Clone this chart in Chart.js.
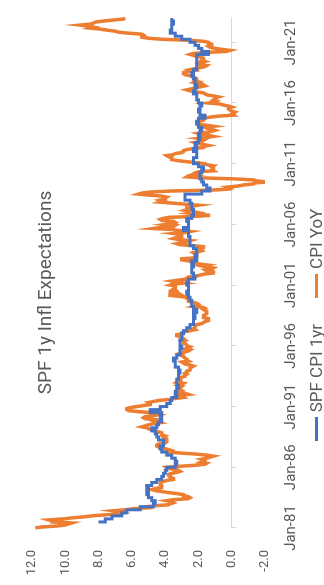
<!DOCTYPE html>
<html>
<head>
<meta charset="utf-8">
<script src="https://cdn.jsdelivr.net/npm/chart.js@4.4.1/dist/chart.umd.min.js"></script>
<style>
  html, body { margin: 0; padding: 0; background: #fff; overflow: hidden; }
  #wrap {
    position: absolute; left: 0; top: 0;
    width: 585px; height: 324px;
    transform-origin: top left;
    transform: translate(0, 585px) rotate(-90deg);
  }
  #title {
    position: absolute; left: 0; width: 585px; top: 33px;
    text-align: center; font: 19px Roboto, sans-serif; color: #595959;
  }
  #legend {
    position: absolute; left: 0; width: 520px; top: 306px; height: 20px;
    display: flex; justify-content: center; align-items: center;
    font: 17px Roboto, sans-serif; color: #595959; white-space: nowrap;
  }
  #legend .item { display: flex; align-items: center; margin: 0 13px; }
  #legend .swatch { display: inline-block; width: 24px; height: 3px; margin-right: 5px; }
</style>
</head>
<body>
<div id="wrap">
  <canvas id="myChart" width="585" height="324"></canvas>
  <div id="title">SPF 1y Infl Expectations</div>
  <div id="legend"></div>
</div>
<script>
// monthly categories Jan-81 .. Jan-23
const monthNames = ['Jan','Feb','Mar','Apr','May','Jun','Jul','Aug','Sep','Oct','Nov','Dec'];
const labels = [];
for (let y = 1981; y <= 2023; y++) {
  for (let m = 0; m < 12; m++) {
    if (y === 2023 && m > 0) break;
    labels.push(monthNames[m] + '-' + String(y).slice(2));
  }
}

// CPI YoY %, one row per year (1981 .. Jan 2023)
const cpiYoY = [
  11.8, 11.4, 10.5, 10.0, 9.8, 9.6, 10.8, 10.8, 11.0, 10.1, 9.6, 8.9,
  8.4, 7.6, 6.8, 6.5, 6.7, 7.1, 6.4, 5.9, 5.0, 5.1, 4.6, 3.8,
  3.7, 3.5, 3.6, 3.9, 3.5, 2.6, 2.5, 2.6, 2.9, 2.9, 3.3, 3.8,
  4.2, 4.6, 4.8, 4.6, 4.2, 4.2, 4.2, 4.3, 4.3, 4.3, 4.1, 3.9,
  3.5, 3.5, 3.7, 3.7, 3.8, 3.8, 3.6, 3.3, 3.1, 3.2, 3.5, 3.8,
  3.9, 3.1, 2.2, 1.6, 1.5, 1.8, 1.6, 1.6, 1.8, 1.5, 1.3, 1.1,
  1.5, 2.1, 3.0, 3.8, 3.9, 3.7, 3.9, 4.3, 4.4, 4.5, 4.5, 4.4,
  4.0, 3.9, 3.9, 3.9, 3.9, 4.0, 4.1, 4.0, 4.2, 4.2, 4.2, 4.4,
  4.7, 4.8, 5.0, 5.1, 5.4, 5.2, 5.0, 4.7, 4.3, 4.5, 4.7, 4.6,
  5.2, 5.3, 5.2, 4.7, 4.4, 4.7, 4.8, 5.6, 6.2, 6.3, 6.3, 6.1,
  5.7, 5.3, 4.9, 4.9, 5.0, 4.7, 4.4, 3.8, 3.4, 2.9, 3.0, 3.1,
  2.6, 2.8, 3.2, 3.2, 3.0, 3.1, 3.2, 3.1, 3.0, 3.2, 3.0, 2.9,
  3.3, 3.2, 3.1, 3.2, 3.2, 3.0, 2.8, 2.8, 2.7, 2.8, 2.7, 2.7,
  2.5, 2.5, 2.5, 2.4, 2.3, 2.5, 2.8, 2.9, 3.0, 2.6, 2.7, 2.7,
  2.8, 2.9, 2.9, 3.1, 3.2, 3.0, 2.8, 2.6, 2.5, 2.8, 2.6, 2.5,
  2.7, 2.7, 2.8, 2.9, 2.9, 2.8, 3.0, 2.9, 3.0, 3.0, 3.3, 3.3,
  3.0, 3.0, 2.8, 2.5, 2.2, 2.3, 2.2, 2.2, 2.2, 2.1, 1.8, 1.7,
  1.6, 1.4, 1.4, 1.4, 1.7, 1.7, 1.7, 1.6, 1.5, 1.5, 1.5, 1.6,
  1.7, 1.6, 1.7, 2.3, 2.1, 2.0, 2.1, 2.3, 2.6, 2.6, 2.6, 2.7,
  2.7, 3.2, 3.8, 3.1, 3.2, 3.7, 3.7, 3.4, 3.5, 3.4, 3.4, 3.4,
  3.7, 3.5, 2.9, 3.3, 3.6, 3.2, 2.7, 2.7, 2.6, 2.1, 1.9, 1.6,
  1.1, 1.1, 1.5, 1.6, 1.2, 1.1, 1.5, 1.8, 1.5, 2.0, 2.2, 2.4,
  2.6, 3.0, 3.0, 2.2, 2.1, 2.1, 2.1, 2.2, 2.3, 2.0, 1.8, 1.9,
  1.9, 1.7, 1.7, 2.3, 3.1, 3.3, 3.0, 2.7, 2.5, 3.2, 3.5, 3.3,
  3.0, 3.0, 3.1, 3.5, 2.8, 2.5, 3.2, 3.6, 4.7, 4.3, 3.5, 3.4,
  4.0, 3.6, 3.4, 3.5, 4.2, 4.3, 4.1, 3.8, 2.1, 1.3, 2.0, 2.5,
  2.1, 2.4, 2.8, 2.6, 2.7, 2.7, 2.4, 2.0, 2.8, 3.5, 4.3, 4.1,
  4.3, 4.0, 4.0, 3.9, 4.2, 5.0, 5.6, 5.4, 4.9, 3.7, 1.1, 0.1,
  0.0, 0.2, -0.4, -0.7, -1.3, -1.4, -2.1, -1.5, -1.3, -0.2, 1.8, 2.7,
  2.6, 2.1, 2.3, 2.2, 2.0, 1.1, 1.2, 1.1, 1.1, 1.2, 1.1, 1.5,
  1.6, 2.1, 2.7, 3.2, 3.6, 3.6, 3.6, 3.8, 3.9, 3.5, 3.4, 3.0,
  2.9, 2.9, 2.7, 2.3, 1.7, 1.7, 1.4, 1.7, 2.0, 2.2, 1.8, 1.7,
  1.6, 2.0, 1.5, 1.1, 1.4, 1.8, 2.0, 1.5, 1.2, 1.0, 1.2, 1.5,
  1.6, 1.1, 1.5, 2.0, 2.1, 2.1, 2.0, 1.7, 1.7, 1.7, 1.3, 0.8,
  -0.1, 0.0, -0.1, -0.2, 0.0, 0.1, 0.2, 0.2, 0.0, 0.2, 0.5, 0.7,
  1.4, 1.0, 0.9, 1.1, 1.0, 1.0, 0.8, 1.1, 1.5, 1.6, 1.7, 2.1,
  2.5, 2.7, 2.4, 2.2, 1.9, 1.6, 1.7, 1.9, 2.2, 2.0, 2.2, 2.1,
  2.1, 2.2, 2.4, 2.5, 2.8, 2.9, 2.9, 2.7, 2.3, 2.5, 2.2, 1.9,
  1.6, 1.5, 1.9, 2.0, 1.8, 1.6, 1.8, 1.7, 1.7, 1.8, 2.1, 2.3,
  2.5, 2.3, 1.5, 0.3, 0.1, 0.6, 1.0, 1.3, 1.4, 1.2, 1.2, 1.4,
  1.4, 1.7, 2.6, 4.2, 5.0, 5.4, 5.4, 5.3, 5.4, 6.2, 6.8, 7.0,
  7.5, 7.9, 8.5, 8.3, 8.6, 9.1, 8.5, 8.3, 8.2, 7.7, 7.1, 6.5,
  6.4
];

// SPF 1-year CPI forecast, quarterly from 1981Q3 to 2023Q1
const spfStart = 'Jul-81';
const spfCpi1yr = [
  8.0, 7.6,
  7.2, 6.6, 6.3, 5.5,
  4.7, 4.6, 4.8, 5.0,
  5.1, 5.0, 5.1, 4.8,
  4.5, 4.2, 4.1, 4.0,
  3.9, 3.4, 3.3, 3.4,
  3.6, 3.9, 4.2, 4.3,
  4.1, 4.1, 4.4, 4.5,
  4.6, 4.8, 4.5, 4.4,
  4.2, 4.3, 4.2, 4.9,
  4.3, 3.9, 3.7, 3.6,
  3.3, 3.4, 3.3, 3.2,
  3.3, 3.3, 3.2, 3.2,
  3.1, 3.2, 3.4, 3.4,
  3.5, 3.3, 3.1, 3.1,
  3.0, 3.1, 3.1, 3.0,
  3.0, 2.9, 2.7, 2.5,
  2.3, 2.3, 2.2, 2.3,
  2.1, 2.3, 2.4, 2.4,
  2.5, 2.6, 2.7, 2.6,
  2.6, 2.7, 2.6, 2.2,
  2.3, 2.4, 2.4, 2.3,
  2.4, 2.1, 2.2, 2.1,
  2.1, 2.3, 2.5, 2.5,
  2.5, 2.6, 2.6, 2.9,
  2.6, 2.6, 2.7, 2.4,
  2.3, 2.3, 2.4, 2.4,
  2.5, 2.8, 2.8, 1.8,
  1.3, 1.5, 1.7, 1.8,
  1.9, 1.9, 1.8, 1.7,
  2.0, 2.3, 2.3, 2.1,
  2.1, 2.3, 2.1, 2.2,
  2.0, 1.9, 2.0, 1.9,
  1.8, 2.0, 2.1, 2.0,
  1.6, 1.9, 2.0, 1.9,
  1.8, 2.0, 2.1, 2.1,
  2.3, 2.2, 2.1, 2.2,
  2.2, 2.3, 2.4, 2.3,
  2.1, 2.1, 2.1, 2.1,
  2.1, 1.4, 1.8, 2.0,
  2.2, 2.5, 3.0, 3.4,
  3.7, 3.6, 3.6, 3.5,
  3.6
];

const yTicks = [-2, 0, 2, 4, 6, 8, 10, 12];
const labelEvery = 60; // Jan every 5 years

const spfFirst = labels.indexOf(spfStart);
const spfData = spfCpi1yr.map((v, i) => ({ x: labels[spfFirst + 3 * i], y: v }));

const textColor = '#595959';
const axisColor = '#d9d9d9';
const yFont = { family: 'Roboto, sans-serif', size: 13 };
const xFont = { family: 'Roboto, sans-serif', size: 15 };

const chart = new Chart(document.getElementById('myChart'), {
  type: 'line',
  data: {
    labels: labels,
    datasets: [{
      label: 'SPF CPI 1yr',
      data: spfData,
      borderColor: '#4472C4',
      backgroundColor: '#4472C4',
      borderWidth: 3,
      pointRadius: 0,
      stepped: 'after'
    }, {
      label: 'CPI YoY',
      data: cpiYoY,
      borderColor: '#ED7D31',
      backgroundColor: '#ED7D31',
      borderWidth: 3.5,
      pointRadius: 0,
      tension: 0
    }]
  },
  options: {
    responsive: false,
    animation: false,
    layout: { padding: { top: 32, right: 18, left: 0, bottom: 0 } },
    plugins: {
      title: { display: false },
      tooltip: { enabled: false },
      legend: { display: false }
    },
    scales: {
      x: {
        type: 'category',
        offset: false,
        grid: { display: false },
        border: { display: false },
        ticks: {
          color: textColor,
          font: xFont,
          autoSkip: false,
          maxRotation: 0,
          padding: 9,
          callback: (v, i) => (i % labelEvery === 0 ? labels[i] : '')
        },
        afterFit: s => { s.height = 324 - 265; }
      },
      x0: {
        type: 'category',
        position: { y: 0 },
        offset: false,
        border: { color: axisColor, width: 1 },
        grid: {
          drawOnChartArea: false,
          tickLength: 4,
          tickColor: c => (c.index % labelEvery === 0 ? axisColor : 'transparent')
        },
        ticks: { display: false, autoSkip: false }
      },
      y: {
        min: yTicks[0],
        max: yTicks[yTicks.length - 1],
        grid: { display: false },
        border: { display: false },
        afterBuildTicks: s => { s.ticks = yTicks.map(v => ({ value: v })); },
        ticks: {
          color: textColor,
          font: yFont,
          padding: 14,
          callback: v => v.toFixed(1)
        },
        afterFit: s => { s.width = 57; }
      }
    }
  }
});

// legend built from the chart's datasets
const legendEl = document.getElementById('legend');
chart.data.datasets.forEach(ds => {
  const item = document.createElement('span');
  item.className = 'item';
  const sw = document.createElement('span');
  sw.className = 'swatch';
  sw.style.background = ds.borderColor;
  item.appendChild(sw);
  item.appendChild(document.createTextNode(ds.label));
  legendEl.appendChild(item);
});
</script>
</body>
</html>
